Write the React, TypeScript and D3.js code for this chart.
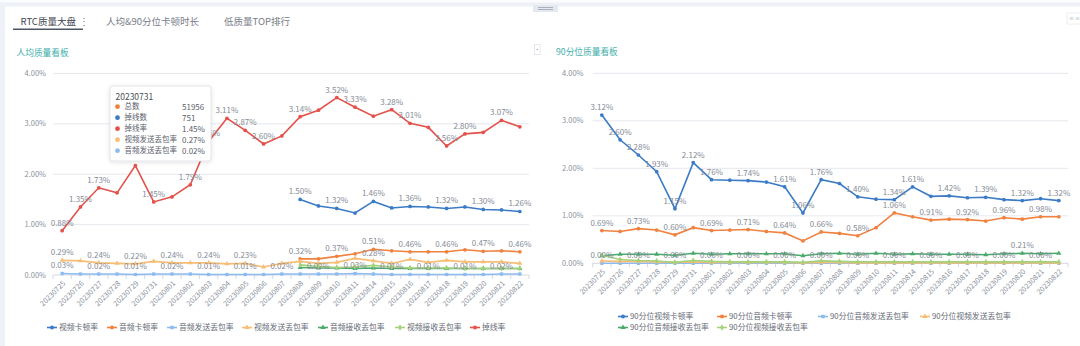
import React from 'react';
import * as d3 from 'd3';

const FONT = '"Noto Sans CJK SC", "Noto Sans", sans-serif';

const dates = ['20230725','20230726','20230727','20230728','20230729','20230731','20230801','20230802','20230803','20230804','20230805','20230806','20230807','20230808','20230809','20230810','20230811','20230814','20230815','20230816','20230817','20230818','20230819','20230820','20230821','20230822'];
const yTicks = [0, 1, 2, 3, 4];
const N = null;

// 人均质量看板
const videoStall = [N,N,N,N,N,N,N,N,N,N,N,N,N,1.50,1.37,1.32,1.23,1.46,1.33,1.36,1.35,1.32,1.35,1.30,1.29,1.26];
const audioStall = [N,N,N,N,N,N,N,N,N,N,N,N,N,0.32,0.32,0.37,0.42,0.51,0.48,0.46,0.46,0.46,0.50,0.47,0.48,0.46];
const audioSendLoss = [0.03,0.02,0.02,0.02,0.01,0.02,0.02,0.02,0.01,0.01,0.01,0.01,0.02,0.02,0.02,0.02,0.03,0.02,0.01,0.01,0.01,0.01,0.01,0.01,0.02,0.02];
const videoSendLoss = [0.29,0.28,0.24,0.23,0.22,0.27,0.24,0.24,0.24,0.22,0.23,0.16,0.23,0.27,0.23,0.25,0.33,0.28,0.23,0.31,0.25,0.29,0.26,0.26,0.26,0.23];
const audioRecvLoss = [N,N,N,N,N,N,N,N,N,N,N,N,N,0.15,0.14,0.14,0.13,0.14,0.13,0.13,0.13,0.13,0.13,0.13,0.13,0.13];
const videoRecvLoss = [N,N,N,N,N,N,N,N,N,N,N,N,N,0.20,0.17,0.15,0.16,0.19,0.16,0.14,0.14,0.14,0.13,0.13,0.13,0.13];
const dropRate = [0.88,1.35,1.73,1.63,2.17,1.45,1.55,1.79,2.65,3.11,2.87,2.60,2.76,3.14,3.27,3.52,3.33,3.15,3.28,3.01,2.93,2.56,2.80,2.83,3.07,2.94];

// 90分位质量看板
const p90VideoStall = [3.12,2.60,2.28,1.93,1.15,2.12,1.76,1.75,1.74,1.71,1.61,1.06,1.76,1.68,1.40,1.35,1.34,1.61,1.41,1.42,1.38,1.39,1.34,1.32,1.36,1.32];
const p90AudioStall = [0.69,0.67,0.73,0.70,0.60,0.75,0.69,0.70,0.71,0.67,0.64,0.47,0.66,0.63,0.58,0.75,1.06,0.98,0.91,0.93,0.92,0.89,0.96,0.93,0.98,0.98];
const p90AudioSendLoss = [0,0,0,0,0,0,0,0,0,0,0,0,0,0,0,0,0,0,0,0,0,0,0,0,0,0];
const p90VideoSendLoss = [0.05,0.04,0.04,0.03,0.02,0.03,0.02,0.02,0.02,0.02,0.02,0.01,0.02,0.02,0.01,0.01,0.01,0.01,0.01,0.01,0.01,0.01,0.01,0.01,0.01,0.01];
const p90AudioRecvLoss = [0.16,0.19,0.19,0.19,0.17,0.21,0.19,0.20,0.20,0.20,0.20,0.16,0.20,0.21,0.19,0.21,0.19,0.20,0.19,0.19,0.19,0.18,0.20,0.21,0.20,0.21];
const p90VideoRecvLoss = [0.17,0.08,0.06,0.05,0.02,0.06,0.04,0.03,0.03,0.03,0.03,0.02,0.05,0.04,0.03,0.03,0.03,0.03,0.03,0.03,0.03,0.03,0.03,0.03,0.03,0.03];

// which points carry a visible value label
const evenIdx = [0,2,4,6,8,10,12,14,16,18,20,22,24];
const oddTail = [13,15,17,19,21,23,25];

// tooltip
const tipTitle = '20230731';
const tipNames = ['总数', '掉线数', '掉线率', '视频发送丢包率', '音频发送丢包率'];
const tipValues = ['51956', '751', '1.45%', '0.27%', '0.02%'];

const C = {
  blue: '#3b7bc6', orange: '#f0813e', lblue: '#8dbbf0', lorange: '#f7bd75',
  green: '#4aa96c', lgreen: '#a3d27b', red: '#e4514a',
};

type S = { name: string; values: (number | null)[]; color: string; symbol: d3.SymbolType; labels: number[] };

const leftSeries: S[] = [
  { name: '视频卡顿率', values: videoStall, color: C.blue, symbol: d3.symbolCircle, labels: oddTail },
  { name: '音频卡顿率', values: audioStall, color: C.orange, symbol: d3.symbolCircle, labels: oddTail },
  { name: '音频发送丢包率', values: audioSendLoss, color: C.lblue, symbol: d3.symbolSquare, labels: evenIdx },
  { name: '视频发送丢包率', values: videoSendLoss, color: C.lorange, symbol: d3.symbolTriangle, labels: [0,2,4,6,8,10,17] },
  { name: '音频接收丢包率', values: audioRecvLoss, color: C.green, symbol: d3.symbolTriangle, labels: [] },
  { name: '视频接收丢包率', values: videoRecvLoss, color: C.lgreen, symbol: d3.symbolDiamond, labels: [] },
  { name: '掉线率', values: dropRate, color: C.red, symbol: d3.symbolCircle, labels: [0,1,2,5,7,8,9,10,11,13,15,16,18,19,21,22,24] },
];

const rightSeries: S[] = [
  { name: '90分位视频卡顿率', values: p90VideoStall, color: C.blue, symbol: d3.symbolCircle, labels: [0,1,2,3,4,5,6,8,10,11,12,14,16,17,19,21,23,25] },
  { name: '90分位音频卡顿率', values: p90AudioStall, color: C.orange, symbol: d3.symbolCircle, labels: evenIdx },
  { name: '90分位音频发送丢包率', values: p90AudioSendLoss, color: C.lblue, symbol: d3.symbolSquare, labels: evenIdx },
  { name: '90分位视频发送丢包率', values: p90VideoSendLoss, color: C.lorange, symbol: d3.symbolTriangle, labels: [] },
  { name: '90分位音频接收丢包率', values: p90AudioRecvLoss, color: C.green, symbol: d3.symbolTriangle, labels: [23] },
  { name: '90分位视频接收丢包率', values: p90VideoRecvLoss, color: C.lgreen, symbol: d3.symbolDiamond, labels: [] },
];

const leftLegendPos: [number, number][] = [[52,327.5],[112,327.5],[172,327.5],[247,327.5],[323,327.5],[400,327.5],[475,327.5]];
const rightLegendPos: [number, number][] = [[623,316.5],[722,316.5],[823,316.5],[925,316.5],[623,327.5],[722,327.5]];

function Chart({ series, x0, x1, yBottom, yTop, axisLabelX, legendPos }: {
  series: S[]; x0: number; x1: number; yBottom: number; yTop: number; axisLabelX: number; legendPos: [number, number][];
}) {
  const x = d3.scaleBand<string>().domain(dates).range([x0, x1]);
  const y = d3.scaleLinear().domain([0, 4]).range([yBottom, yTop]);
  const cx = (i: number) => (x(dates[i]) as number) + x.bandwidth() / 2;
  const line = d3.line<number | null>()
    .defined((d) => d !== null)
    .x((_, i) => cx(i))
    .y((d) => y(d as number));
  const boundaries = dates.map((d) => x(d) as number).concat([x1]);
  return (
    <g>
      {yTicks.map((t) => (
        <g key={t}>
          {t > 0 && <line x1={x0} x2={x1} y1={y(t)} y2={y(t)} stroke="#e6e8ee" strokeWidth={1} />}
          <text x={axisLabelX} y={y(t)} dy="0.35em" textAnchor="end" fontSize={7.5} fill="#8b919d" fontFamily={FONT}>
            {d3.format('.2f')(t)}%
          </text>
        </g>
      ))}
      <line x1={x0} x2={x1} y1={yBottom} y2={yBottom} stroke="#d4d8e0" strokeWidth={1} />
      {boundaries.map((bx, i) => (
        <line key={i} x1={bx} x2={bx} y1={yBottom} y2={yBottom + 4} stroke="#d4d8e0" strokeWidth={1} />
      ))}
      {dates.map((d, i) => (
        <text key={d} transform={`translate(${cx(i) + 2},${yBottom + 7}) rotate(-45)`} textAnchor="end" dy="0.35em"
          fontSize={7.3} fill="#8b919d" fontFamily={FONT}>{d}</text>
      ))}
      {series.map((s) => (
        <g key={s.name}>
          <path d={line(s.values) || ''} fill="none" stroke={s.color} strokeWidth={1.6} />
          {s.values.map((v, i) => v === null ? null : (
            <path key={i} transform={`translate(${cx(i)},${y(v)})`} d={d3.symbol(s.symbol, 11)() || ''} fill={s.color} />
          ))}
        </g>
      ))}
      {series.map((s) => (
        <g key={s.name + 'l'}>
          {s.labels.map((i) => s.values[i] === null ? null : (
            <text key={i} x={cx(i)} y={y(s.values[i] as number) - 5} textAnchor="middle" fontSize={8}
              fill="#858b96" fontFamily={FONT}>{d3.format('.2f')(s.values[i] as number)}%</text>
          ))}
        </g>
      ))}
      {series.map((s, k) => (
        <g key={s.name + 'g'} transform={`translate(${legendPos[k][0]},${legendPos[k][1]})`}>
          <line x1={-5} x2={5} y1={0} y2={0} stroke={s.color} strokeWidth={1.6} />
          <path d={d3.symbol(s.symbol, 12)() || ''} fill={s.color} />
          <text x={7} y={0} dy="0.35em" fontSize={7.8} fill="#666b76" fontFamily={FONT}>{s.name}</text>
        </g>
      ))}
    </g>
  );
}

function Tooltip() {
  const dotColors = [C.orange, C.blue, C.red, C.lorange, C.lblue];
  return (
    <g transform="translate(110,86)">
      <defs>
        <filter id="sh" x="-20%" y="-20%" width="140%" height="140%">
          <feDropShadow dx="0" dy="1" stdDeviation="2" floodColor="#000" floodOpacity="0.12" />
        </filter>
      </defs>
      <rect x={0} y={0} width={101} height={75} rx={3} fill="#fff" stroke="#e3e5ea" filter="url(#sh)" />
      <text x={5.5} y={11} dy="0.35em" fontSize={8.5} fill="#4a4f5a" fontFamily={FONT}>{tipTitle}</text>
      {tipNames.map((n, i) => (
        <g key={n} transform={`translate(0,${20.7 + i * 11})`}>
          <circle cx={7.5} cy={0} r={2.4} fill={dotColors[i]} />
          <text x={14.5} y={0} dy="0.35em" fontSize={7.5} fill="#5b606b" fontFamily={FONT}>{n}</text>
          <text x={72} y={0} dy="0.35em" fontSize={8} fill="#5b606b" fontFamily={FONT}>{tipValues[i]}</text>
        </g>
      ))}
    </g>
  );
}

export default function App() {
  return (
    <svg width={1080} height={346} style={{ position: 'absolute', left: 0, top: 0, display: 'block' }}>
      <rect x={0} y={0} width={1080} height={346} fill="#eef1f7" />
      <rect x={0} y={0} width={1080} height={2.5} fill="#fbfcfe" />
      <rect x={5} y={6.5} width={1075} height={340} fill="#ffffff" />
      {/* drag handle */}
      <rect x={533} y={5} width={25} height={7} fill="#e4e8f0" />
      <line x1={538} x2={553} y1={7.5} y2={7.5} stroke="#9aa0ab" strokeWidth={0.8} />
      <line x1={538} x2={553} y1={9.5} y2={9.5} stroke="#9aa0ab" strokeWidth={0.8} />
      {/* top-right toolbox */}
      <rect x={1067} y={13} width={14} height={11} fill="#fff" stroke="#eceef3" />
      <text x={1069} y={18.5} dy="0.35em" fontSize={5} fill="#8b919d" fontFamily={FONT}>≡ ≡</text>
      {/* tabs */}
      <text x={20.5} y={21.5} dy="0.35em" fontSize={9.5} fill="#3f4450" fontFamily={FONT}>RTC质量大盘</text>
      <text x={79} y={21.5} dy="0.35em" fontSize={9.5} fill="#6c717c" fontFamily={FONT}>⋮</text>
      <line x1={13} x2={83} y1={29.3} y2={29.3} stroke="#4d5563" strokeWidth={1.5} />
      <text x={106} y={21.5} dy="0.35em" fontSize={9.5} fill="#777c87" fontFamily={FONT}>人均&amp;90分位卡顿时长</text>
      <text x={224} y={21.5} dy="0.35em" fontSize={9.5} fill="#777c87" fontFamily={FONT}>低质量TOP排行</text>
      {/* titles */}
      <text x={16.5} y={52.5} dy="0.35em" fontSize={8.7} fill="#3fb0ad" fontFamily={FONT}>人均质量看板</text>
      <text x={556} y={52} dy="0.35em" fontSize={8.7} fill="#3fb0ad" fontFamily={FONT}>90分位质量看板</text>
      {/* collapse button */}
      <rect x={534.5} y={44.5} width={5.5} height={10} fill="#fff" stroke="#e6e8ee" />
      <circle cx={537.3} cy={49.5} r={0.6} fill="#777" />

      <Chart series={leftSeries} x0={53} x1={529} yBottom={275} yTop={73.4} axisLabelX={46} legendPos={leftLegendPos} />
      <Chart series={rightSeries} x0={592.7} x1={1068} yBottom={263.3} yTop={73.3} axisLabelX={583.5} legendPos={rightLegendPos} />
      <Tooltip />
    </svg>
  );
}
